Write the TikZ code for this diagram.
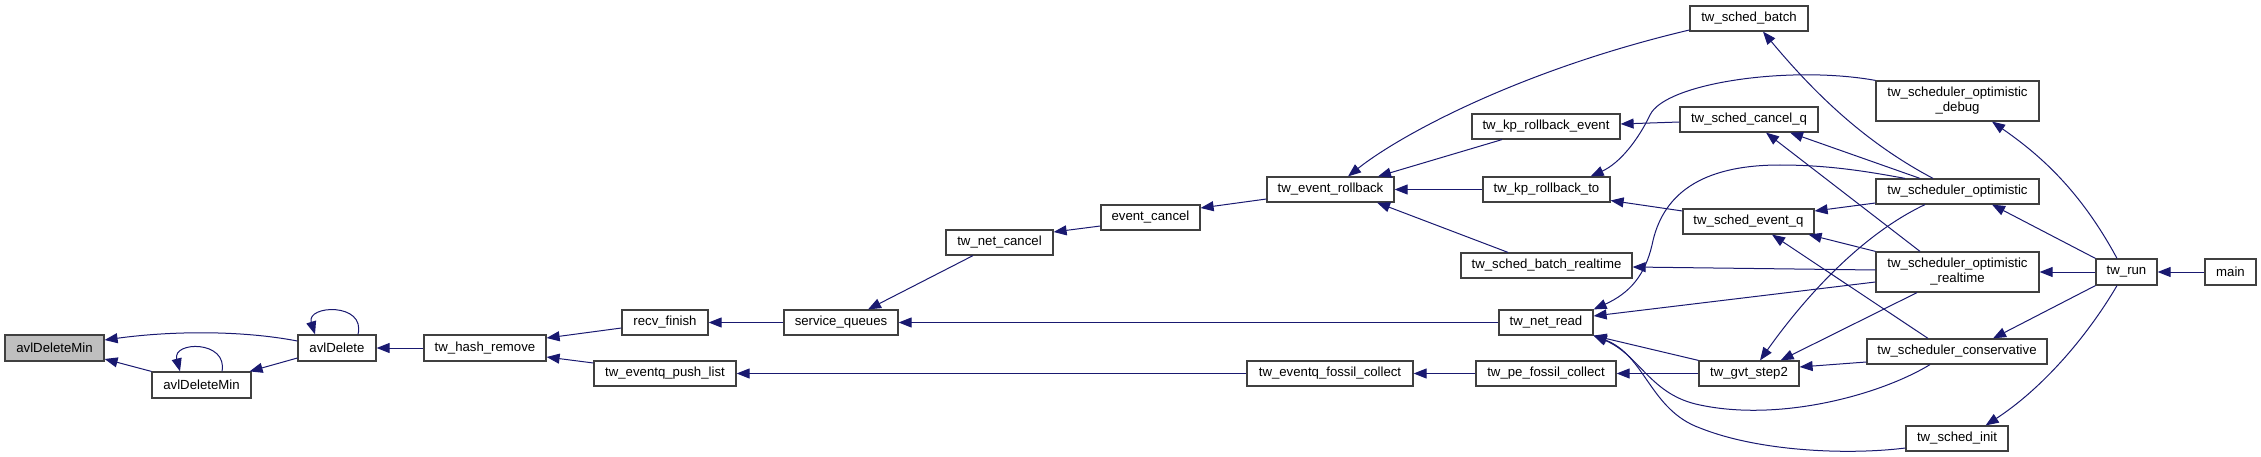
\documentclass[tikz,border=0pt]{standalone}
\usepackage{fontspec}
\setmainfont{Liberation Sans}
\usetikzlibrary{arrows.meta}
\definecolor{edgecol}{HTML}{191970}
\definecolor{boxcol}{HTML}{404040}
\definecolor{hilite}{HTML}{BFBFBF}
\tikzset{
  box/.style={draw=boxcol, line width=1.2pt, fill=white, inner sep=0pt, align=center,
    font=\fontsize{13.2}{15}\selectfont},
  cedge/.style={draw=edgecol, line width=1pt, {Triangle[length=13pt,width=10pt]}-}
}
\begin{document}
\begin{tikzpicture}[x=1pt,y=-1pt]
\useasboundingbox (0,0) rectangle (2261,457);
% nodes
\node[box, fill=hilite, minimum width=99pt, minimum height=26pt] (adm) at (54.5,348) {avlDeleteMin};
\node[box, minimum width=99pt, minimum height=26pt] (adm2) at (201.5,385) {avlDeleteMin};
\node[box, minimum width=78pt, minimum height=26pt] (ad) at (337,348) {avlDelete};
\node[box, minimum width=122pt, minimum height=26pt] (thr) at (485,348) {tw\_hash\_remove};
\node[box, minimum width=86pt, minimum height=25pt] (rf) at (665,322.5) {recv\_finish};
\node[box, minimum width=142pt, minimum height=25pt] (epl) at (665,373.5) {tw\_eventq\_push\_list};
\node[box, minimum width=114pt, minimum height=25pt] (sq) at (841,322.5) {service\_queues};
\node[box, minimum width=107pt, minimum height=25pt] (tnc) at (999.5,242.5) {tw\_net\_cancel};
\node[box, minimum width=99pt, minimum height=25pt] (ec) at (1150.5,217.5) {event\_cancel};
\node[box, minimum width=127pt, minimum height=25pt] (er) at (1330.5,189.5) {tw\_event\_rollback};
\node[box, minimum width=166pt, minimum height=25pt] (efc) at (1330,373.5) {tw\_eventq\_fossil\_collect};
\node[box, minimum width=118pt, minimum height=25pt] (sb) at (1749,18.5) {tw\_sched\_batch};
\node[box, minimum width=148pt, minimum height=25pt] (kre) at (1546,126.5) {tw\_kp\_rollback\_event};
\node[box, minimum width=127pt, minimum height=25pt] (krt) at (1546.5,189.5) {tw\_kp\_rollback\_to};
\node[box, minimum width=171pt, minimum height=25pt] (sbr) at (1546.5,265.5) {tw\_sched\_batch\_realtime};
\node[box, minimum width=94pt, minimum height=25pt] (nr) at (1546,322.5) {tw\_net\_read};
\node[box, minimum width=140pt, minimum height=25pt] (pfc) at (1546,373.5) {tw\_pe\_fossil\_collect};
\node[box, minimum width=138pt, minimum height=25pt] (scq) at (1749,119.5) {tw\_sched\_cancel\_q};
\node[box, minimum width=131pt, minimum height=25pt] (seq) at (1748.5,221.5) {tw\_sched\_event\_q};
\node[box, minimum width=100pt, minimum height=25pt] (gvt) at (1749,373.5) {tw\_gvt\_step2};
\node[box, minimum width=163pt, minimum height=40pt] (sod) at (1957.5,101) {tw\_scheduler\_optimistic\\\_debug};
\node[box, minimum width=163pt, minimum height=25pt] (so) at (1957.5,191.5) {tw\_scheduler\_optimistic};
\node[box, minimum width=163pt, minimum height=40pt] (sor) at (1957.5,272) {tw\_scheduler\_optimistic\\\_realtime};
\node[box, minimum width=180pt, minimum height=25pt] (sc) at (1957,351.5) {tw\_scheduler\_conservative};
\node[box, minimum width=102pt, minimum height=25pt] (si) at (1957,438.5) {tw\_sched\_init};
\node[box, minimum width=61pt, minimum height=26pt] (run) at (2126.5,272) {tw\_run};
\node[box, minimum width=51pt, minimum height=26pt] (main) at (2230.5,272) {main};
% edges (arrow at callee)
\draw[cedge] ([yshift=8pt]adm.east) .. controls (170,331) and (240,330) .. ([yshift=7pt]ad.west);
\draw[cedge] ([yshift=-11pt]adm.east) -- (adm2.north west);
\draw[cedge] ([xshift=-21.5pt]adm2.north) .. controls (172,341) and (228,340) .. ([xshift=20.5pt]adm2.north);
\draw[cedge] ([xshift=-22pt]ad.north) .. controls (306,305) and (366,302) .. ([xshift=21pt]ad.north);
\draw[cedge] ([xshift=-2pt]adm2.north east) -- ([yshift=-10pt]ad.west);
\draw[cedge] (ad.east) -- (thr.west);
\draw[cedge] ([yshift=10pt]thr.east) -- ([yshift=-5.5pt]rf.west);
\draw[cedge] ([yshift=-9pt]thr.east) -- ([yshift=10.5pt]epl.west);
\draw[cedge] (rf.east) -- (sq.west);
\draw[cedge] ([xshift=27pt]sq.north) -- ([xshift=-26.5pt]tnc.south);
\draw[cedge] (sq.east) -- (nr.west);
\draw[cedge] (epl.east) -- (efc.west);
\draw[cedge] ([yshift=10.5pt]tnc.east) -- ([yshift=-8.5pt]ec.west);
\draw[cedge] ([yshift=9.5pt]ec.east) -- ([yshift=-9.5pt]er.west);
\draw[cedge] ([xshift=17.5pt]er.north) .. controls (1400,135) and (1520,70) .. ([yshift=-11.5pt]sb.west);
\draw[cedge] ([xshift=47.5pt]er.north) -- ([xshift=-44pt]kre.south);
\draw[cedge] (er.east) -- (krt.west);
\draw[cedge] ([xshift=46.5pt]er.south) -- ([xshift=-38.5pt]sbr.north);
\draw[cedge] (efc.east) -- (pfc.west);
\draw[cedge] ([yshift=2.5pt]kre.east) -- ([yshift=-2.5pt]scq.west);
\draw[cedge] ([xshift=-20pt]krt.north east) .. controls (1620,163) and (1638,140) .. (1650,115)
   .. controls (1665,83) and (1790,65) .. (sod.north west);
\draw[cedge] ([yshift=-11pt]krt.east) -- ([yshift=10.5pt]seq.west);
\draw[cedge] (pfc.east) -- (gvt.west);
\draw[cedge] (nr.north east) .. controls (1630,293) and (1645,275) .. (1652,245)
   .. controls (1662,195) and (1700,165) .. (1780,165)
   .. controls (1830,165) and (1870,172) .. ([xshift=-52.5pt]so.north);
\draw[cedge] ([yshift=6.5pt]nr.east) -- ([yshift=-10pt]sor.west);
\draw[cedge] (nr.south east) -- (gvt.north west);
\draw[cedge] (nr.south east) .. controls (1640,355) and (1650,395) .. (1700,405)
   .. controls (1780,422) and (1880,395) .. ([xshift=-27pt]sc.south);
\draw[cedge] (nr.south east) .. controls (1645,355) and (1650,410) .. (1700,428)
   .. controls (1760,452) and (1850,455) .. ([yshift=-9.5pt]si.west);
\draw[cedge] ([xshift=41pt]scq.south) -- ([xshift=-37.5pt]so.north);
\draw[cedge] ([xshift=17pt]scq.south) -- ([xshift=-37.5pt]sor.north);
\draw[cedge] ([yshift=-1.5pt]sbr.east) -- ([yshift=2pt]sor.west);
\draw[cedge] ([xshift=14pt]sb.south) .. controls (1820,100) and (1870,145) .. ([xshift=-24.5pt]so.north);
\draw[cedge] ([yshift=10.5pt]seq.east) -- ([yshift=-11.5pt]so.west);
\draw[cedge] ([xshift=-6pt]seq.south east) -- (sor.north west);
\draw[cedge] ([xshift=23.5pt]seq.south) -- ([xshift=-29pt]sc.north);
\draw[cedge] ([xshift=11pt]gvt.north) .. controls (1790,318) and (1850,240) .. ([xshift=-32.5pt]so.south);
\draw[cedge] ([xshift=-19pt]gvt.north east) -- ([xshift=-40.5pt]sor.south);
\draw[cedge] ([yshift=6.5pt]gvt.east) -- ([yshift=-10.5pt]sc.west);
\draw[cedge] ([xshift=34.5pt]sod.south) .. controls (2040,155) and (2080,190) .. ([xshift=-9.5pt]run.north);
\draw[cedge] ([xshift=34.5pt]so.south) -- (run.north west);
\draw[cedge] (sor.east) -- (run.west);
\draw[cedge] ([xshift=36pt]sc.north) -- (run.south west);
\draw[cedge] ([xshift=-23pt]si.north east) .. controls (2040,390) and (2085,340) .. ([xshift=-9.5pt]run.south);
\draw[cedge] (run.east) -- (main.west);
\end{tikzpicture}
\end{document}
